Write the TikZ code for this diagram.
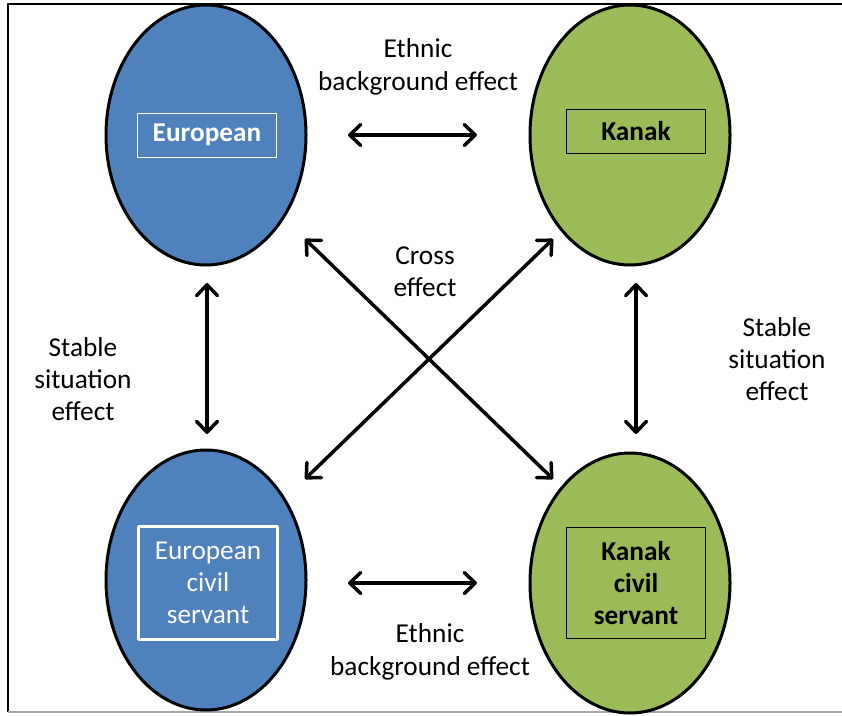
\documentclass[tikz,border=0pt]{standalone}
\usepackage{fontspec}
\setmainfont{Carlito}
\usetikzlibrary{shapes.geometric,arrows.meta}
\definecolor{eublue}{HTML}{4F81BD}
\definecolor{kagreen}{HTML}{9BBB59}
\tikzset{
  group/.style={ellipse,draw=black,line width=3pt,minimum width=200pt,minimum height=260pt,inner sep=0pt},
  tag/.style={draw,minimum width=139pt,inner sep=0pt,align=center,font=\fontsize{27.3}{32.3}\selectfont},
  boldtag/.style={tag,font=\fontsize{27.3}{32.3}\selectfont\bfseries},
  effect/.style={align=center,font=\fontsize{27.3}{32.3}\selectfont},
}
\begin{document}
\begin{tikzpicture}[x=1pt,y=-1pt,>={Straight Barb[length=11pt,width=21pt,round]},line join=bevel]
%%
  \useasboundingbox (0,0) rectangle (842,715);
  \draw [black,line width=2pt] (8,712) -- (8,4) -- (846,4);
  \draw [black!35,line width=2pt] (8,712) -- (846,712);
%%
  \node (node_eu) at (206,135) [group,fill=eublue] {};
  \node (node_ka) at (630,135) [group,fill=kagreen] {};
  \node (node_eucs) at (206,580) [group,fill=eublue] {};
  \node (node_kacs) at (630,583) [group,fill=kagreen] {};

  \node (tag_eu) at (207,135) [boldtag,draw=white,line width=0.8pt,minimum height=44pt,text=white] {European};
  \node (tag_ka) at (636,131) [boldtag,draw=black,line width=0.8pt,minimum height=44pt] {Kanak};
  \node (tag_eucs) at (208,583) [tag,draw=white,line width=2.5pt,minimum height=113pt,text=white] {European\\civil\\servant};
  \node (tag_kacs) at (636,583) [boldtag,draw=black,line width=0.8pt,minimum height=111pt] {Kanak\\civil\\servant};

  \node (lbl_top) at (418,67) [effect] {Ethnic\\background effect};
  \node (lbl_cross) at (425,272) [effect] {Cross\\effect};
  \node (lbl_left) at (83,379) [effect] {Stable\\situation\\effect};
  \node (lbl_right) at (777,359) [effect] {Stable\\situation\\effect};
  \node (lbl_bottom) at (430,652) [effect] {Ethnic\\background effect};
%%
  \coordinate (top_a) at (348,135);
  \coordinate (top_b) at (477,135);
  \coordinate (bot_a) at (348,583);
  \coordinate (bot_b) at (477,583);
  \coordinate (left_a) at (207,283);
  \coordinate (left_b) at (207,434);
  \coordinate (right_a) at (636,283);
  \coordinate (right_b) at (636,434);
  \coordinate (cross_a) at (305,239);
  \coordinate (cross_b) at (553,479);
  \coordinate (cross_c) at (553,239);
  \coordinate (cross_d) at (305,479);

  \draw [black,line width=3.5pt,<->] (top_a) -- (top_b);
  \draw [black,line width=3.5pt,<->] (bot_a) -- (bot_b);
  \draw [black,line width=3.5pt,<->] (left_a) -- (left_b);
  \draw [black,line width=3.5pt,<->] (right_a) -- (right_b);
  \draw [black,line width=3.5pt,<->] (cross_a) -- (cross_b);
  \draw [black,line width=3.5pt,<->] (cross_c) -- (cross_d);
%
\end{tikzpicture}
\end{document}
